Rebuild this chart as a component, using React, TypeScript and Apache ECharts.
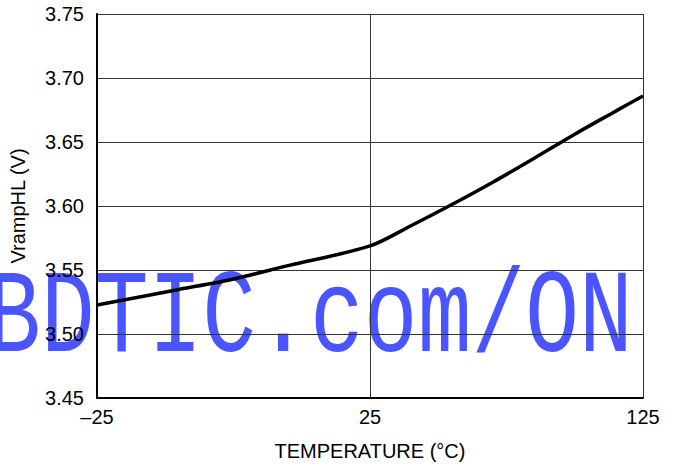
import React, { useEffect, useRef } from "react";
import * as echarts from "echarts";

const temperatures = [-25, -10, 0, 10, 25, 40, 55, 70, 85, 100, 115, 125];
const vrampHL = [3.5227, 3.5348, 3.543, 3.5534, 3.5688, 3.5846, 3.6012, 3.6186, 3.6371, 3.6561, 3.6741, 3.686];
const xTickLabels = ["\u201325", "25", "125"];
const xTickTemps = [-25, 25, 125];
const yMin = 3.45;
const yMax = 3.75;
const yStep = 0.05;
const watermark = "BDTIC.com/ON";

// The reference axis is piecewise: -25..25 fills the first half, 25..125 the second.
function tempToPos(t: number): number {
  if (t <= xTickTemps[1]) return (t - xTickTemps[0]) / (xTickTemps[1] - xTickTemps[0]);
  return 1 + (t - xTickTemps[1]) / (xTickTemps[2] - xTickTemps[1]);
}

const FONT = "'Liberation Sans', Arial, sans-serif";

export default function App() {
  const ref = useRef<HTMLDivElement>(null);
  useEffect(() => {
    if (!ref.current) return;
    const chart = echarts.init(ref.current, undefined, { renderer: "svg" });
    const data = temperatures.map((t, i) => [tempToPos(t), vrampHL[i]]);
    chart.setOption({
      animation: false,
      backgroundColor: "#ffffff",
      textStyle: { fontFamily: FONT },
      grid: { left: 97, right: 31, top: 14, bottom: 71, containLabel: false },
      xAxis: {
        type: "value",
        min: 0,
        max: 2,
        interval: 1,
        name: "TEMPERATURE (\u00B0C)",
        nameLocation: "middle",
        nameGap: 43,
        nameTextStyle: { fontSize: 20, color: "#000", fontFamily: FONT },
        axisLine: { show: true, lineStyle: { color: "#000", width: 2 } },
        axisTick: { show: false },
        axisLabel: {
          fontSize: 20,
          color: "#000",
          fontFamily: FONT,
          margin: 9,
          formatter: (v: number) => xTickLabels[Math.round(v)] ?? "",
        },
        splitLine: { show: true, lineStyle: { color: "#333", width: 1 } },
      },
      yAxis: {
        type: "value",
        min: yMin,
        max: yMax,
        interval: yStep,
        name: "VrampHL (V)",
        nameLocation: "middle",
        nameGap: 69,
        nameTextStyle: { fontSize: 20, color: "#000", fontFamily: FONT },
        axisLine: { show: true, lineStyle: { color: "#000", width: 2 } },
        axisTick: { show: false },
        axisLabel: {
          fontSize: 20,
          color: "#000",
          fontFamily: FONT,
          margin: 13,
          formatter: (v: number) => v.toFixed(2),
        },
        splitLine: { show: true, lineStyle: { color: "#333", width: 1 } },
      },
      graphic: [
        {
          type: "text",
          z: -10,
          x: 310,
          y: 319,
          scaleX: 0.76,
          silent: true,
          style: {
            text: watermark,
            fill: "#4a55ff",
            font: "118px 'Liberation Mono', 'DejaVu Sans Mono', monospace",
            textAlign: "center",
            textVerticalAlign: "middle",
          },
        },
      ],
      series: [
        {
          type: "line",
          data,
          smooth: 0.3,
          showSymbol: false,
          symbol: "none",
          z: 5,
          lineStyle: { color: "#000", width: 3.5 },
        },
      ],
    });
    return () => chart.dispose();
  }, []);
  return (
    <div
      ref={ref}
      style={{ position: "fixed", left: 0, top: 0, width: 674, height: 469 }}
    />
  );
}
